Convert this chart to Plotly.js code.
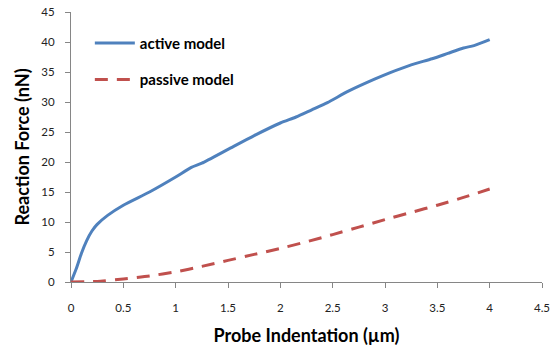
<!DOCTYPE html>
<html>
<head>
<meta charset="utf-8">
<script src="https://cdn.plot.ly/plotly-3.0.1.min.js"></script>
<style>html,body{margin:0;padding:0;background:#fff;}#chart{width:559px;height:348px;}</style>
</head>
<body>
<div id="chart"></div>
<script>
const activeX = [0, 0.05, 0.1, 0.15, 0.2, 0.25, 0.35, 0.5, 0.75, 1.0, 1.15, 1.25, 1.5, 1.75, 2.0, 2.15, 2.3, 2.45, 2.65, 2.9, 3.05, 3.25, 3.45, 3.6, 3.75, 3.85, 4.0];
const activeY = [0, 2.2, 4.8, 6.9, 8.5, 9.6, 11.1, 12.8, 15.0, 17.5, 19.1, 19.8, 22.1, 24.4, 26.5, 27.5, 28.7, 29.9, 31.8, 33.8, 34.9, 36.2, 37.2, 38.1, 39.0, 39.4, 40.4];
const passiveX = [0, 0.25, 0.5, 0.75, 1, 1.25, 1.5, 1.75, 2, 2.25, 2.5, 2.75, 3, 3.25, 3.5, 3.75, 4];
const passiveY = [0, 0.1, 0.5, 1.0, 1.7, 2.6, 3.6, 4.6, 5.6, 6.7, 7.9, 9.15, 10.4, 11.6, 12.8, 14.1, 15.5];
const xTicks = [0, 0.5, 1, 1.5, 2, 2.5, 3, 3.5, 4, 4.5];
const yTicks = [0, 5, 10, 15, 20, 25, 30, 35, 40, 45];

const font = "Lato, 'Open Sans', sans-serif";
const traces = [
  {x: activeX, y: activeY, type: 'scatter', mode: 'lines', name: 'active model',
   legendgroup: 'a', line: {color: '#4F81BD', width: 3, shape: 'spline', smoothing: 0.6}},
  {x: passiveX, y: passiveY, type: 'scatter', mode: 'lines', name: 'passive model',
   legendgroup: 'p', line: {color: '#C0504D', width: 3, dash: '13px,9px', shape: 'spline', smoothing: 0.6}}
];
const axisCommon = {
  showgrid: false, zeroline: false, showline: true, linecolor: '#868686', linewidth: 1,
  ticks: 'outside', ticklen: 5, tickcolor: '#868686', tickwidth: 1,
  tickfont: {family: font, size: 11.5, color: '#222'}
};
const layout = {
  width: 559, height: 348,
  margin: {l: 71, r: 17, t: 12, b: 66},
  paper_bgcolor: '#fff', plot_bgcolor: '#fff',
  showlegend: true,
  legend: {x: 0.04, y: 0.945, xanchor: 'left', yanchor: 'top', bgcolor: 'rgba(0,0,0,0)',
    font: {family: font, size: 15, color: '#000', weight: 'bold'}, traceorder: 'grouped',
    tracegroupgap: 14, itemwidth: 40},
  xaxis: Object.assign({}, axisCommon, {range: [0, 4.5], tickvals: xTicks, ticktext: xTicks.map(String),
    ticklabelstandoff: 10,
    title: {text: 'Probe Indentation (µm)', font: {family: font, size: 18, color: '#000', weight: 'bold'}, standoff: 16}}),
  yaxis: Object.assign({}, axisCommon, {range: [0, 45], tickvals: yTicks, ticktext: yTicks.map(String),
    ticklabelstandoff: 8,
    title: {text: 'Reaction Force (nN)', font: {family: font, size: 18, color: '#000', weight: 'bold'}, standoff: 7}})
};
Plotly.newPlot('chart', traces, layout, {displayModeBar: false, staticPlot: true});
</script>
</body>
</html>
